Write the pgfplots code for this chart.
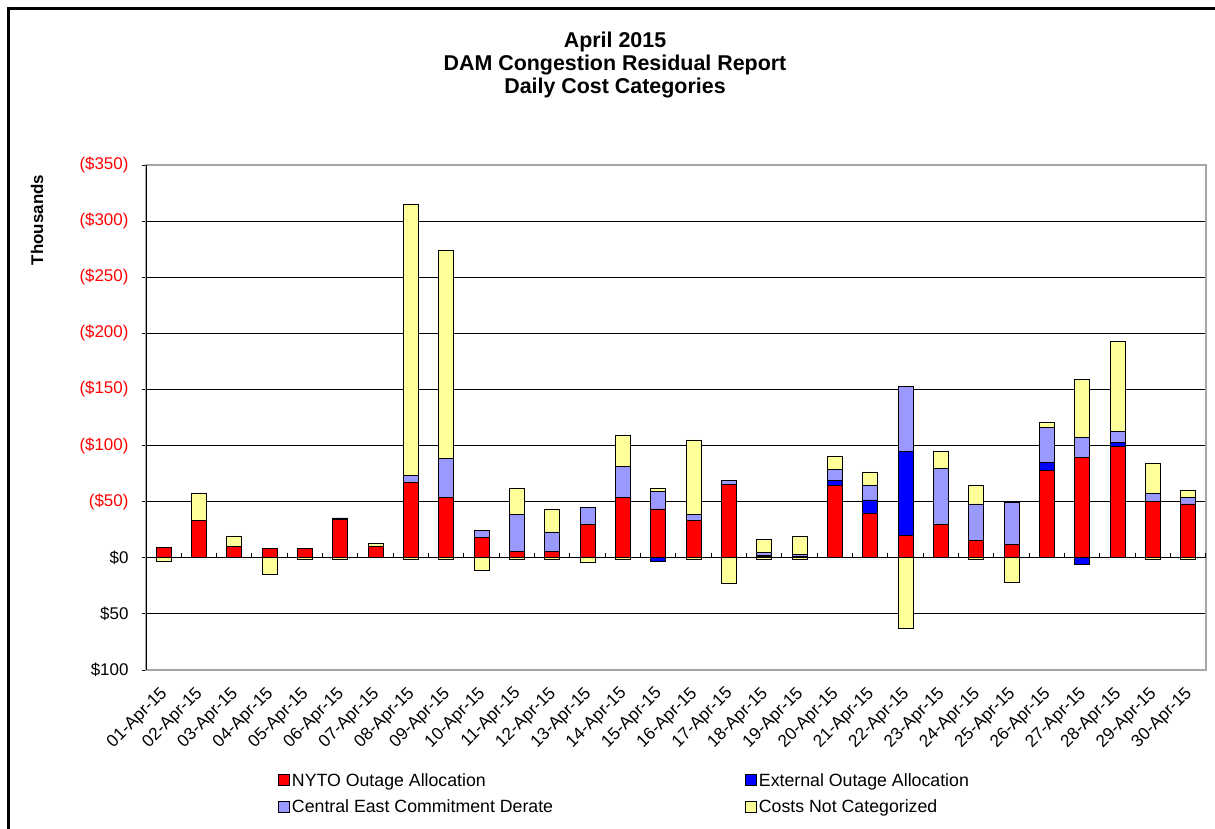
\documentclass[border=0pt]{standalone}
\usepackage{pgfplots}
\pgfplotsset{compat=1.18}
\usepackage{pgfplotstable}
\usepackage{fontspec}
\setmainfont{Liberation Sans}

\definecolor{cred}{RGB}{255,0,0}
\definecolor{cblue}{RGB}{0,0,255}
\definecolor{cpurple}{RGB}{153,153,255}
\definecolor{cyellow}{RGB}{255,255,153}

\pgfplotstableread{
day red blue purple yellow nblue nyellow
1 9.5 0 0 0 0 -3.5
2 33.5 0 0 24 0 0
3 10.5 0 0 9 0 0
4 8.5 0 0 0 0 -14.5
5 8.5 0 0 0 0 -1
6 34.5 1 0 0 0 -1
7 10.5 0 0 2.5 0 0
8 67 0 6 242 0 -1
9 53.5 0 35 185.5 0 -1
10 18 0 6.5 0 0 -11
11 6 0 32.5 23 0 -1
12 6 0 17 20.5 0 -1
13 30 0 14.5 0 0 -4.5
14 54 0 27.5 28 0 -1
15 43.5 0 15.5 2.5 -3.3 0
16 33.5 0 5 66.5 0 -1
17 65 0 4 0 0 -22.5
18 1.5 0.5 3 11 0 -1
19 0.5 0.5 2 16 0 -1
20 64.5 4.5 9.5 12 0 0
21 39.5 12 13 12 0 0
22 20 74.5 58.5 0 0 -62.5
23 29.5 0 50.5 14.5 0 0
24 15.5 0 32.5 16.5 0 -1
25 11.5 0 37.5 0 0 -21.5
26 77.5 7.5 31 5 0 0
27 89.5 0 18 51.5 -6 0
28 99 3.5 10 80 0 0
29 50 0 7.5 26.5 0 -1
30 48 0 6 6 0 -1
}\data

\pgfplotsset{
  common/.style={
    at={(146bp,-670bp)}, anchor=south west, scale only axis,
    width=1060bp, height=505bp,
    xmin=0.5, xmax=30.5, ymin=-100, ymax=350,
    ybar stacked, bar width=15bp,
  },
  barsty/.style={fill=#1, draw=black, line width=0.8bp},
}

\begin{document}
\begin{tikzpicture}
\path[use as bounding box] (0,0) rectangle (1215bp,-829bp);
\draw[line width=3bp] (8.5bp,-829bp) -- (8.5bp,-8.5bp) -- (1215bp,-8.5bp);
\node[font=\fontsize{21.5}{23.5}\selectfont\bfseries, align=center] at (615bp,-65bp)
  {April 2015\\DAM Congestion Residual Report\\Daily Cost Categories};
\node[font=\fontsize{17}{20}\selectfont\bfseries, rotate=90] at (37bp,-220bp) {Thousands};

\begin{axis}[common,
  ytick={-100,-50,...,350},
  yticklabels={\$100,\$50,\$0,\textcolor{red}{(\$50)},\textcolor{red}{(\$100)},\textcolor{red}{(\$150)},\textcolor{red}{(\$200)},\textcolor{red}{(\$250)},\textcolor{red}{(\$300)},\textcolor{red}{(\$350)}},
  ytick pos=left, tick align=outside, major tick length=4bp,
  ytick style={black, line width=1bp},
  y tick label style={font=\fontsize{17}{19}\selectfont, xshift=-10bp},
  xtick={1,...,30},
  xticklabels={01-Apr-15,02-Apr-15,03-Apr-15,04-Apr-15,05-Apr-15,06-Apr-15,07-Apr-15,08-Apr-15,09-Apr-15,10-Apr-15,11-Apr-15,12-Apr-15,13-Apr-15,14-Apr-15,15-Apr-15,16-Apr-15,17-Apr-15,18-Apr-15,19-Apr-15,20-Apr-15,21-Apr-15,22-Apr-15,23-Apr-15,24-Apr-15,25-Apr-15,26-Apr-15,27-Apr-15,28-Apr-15,29-Apr-15,30-Apr-15},
  xtick style={draw=none},
  x tick label style={xshift=-4.5bp, yshift=-10bp, rotate=45, anchor=north east, inner sep=1bp,
    font=\fontsize{17.3}{19}\selectfont},
  ymajorgrids, grid style={black, line width=0.9bp},
  axis line style={draw=gray!70, line width=1.2bp},
  legend columns=2,
  legend cell align=left,
  legend style={draw=none, fill=none, at={(0.1217,-0.196)}, anchor=north west,
    font=\fontsize{17.8}{20}\selectfont, row sep=8.5bp,
    /tikz/every even column/.append style={column sep=190bp}},
  legend image code/.code={\draw[#1, draw=black, line width=0.8bp] (0bp,-5.5bp) rectangle (11bp,5.5bp);},
]
\addplot[barsty=cred] table[x=day,y=red]{\data};
\addlegendentry{NYTO Outage Allocation}
\addplot[barsty=cblue] table[x=day,y=blue]{\data};
\addlegendentry{External Outage Allocation}
\addplot[barsty=cpurple] table[x=day,y=purple]{\data};
\addlegendentry{Central East Commitment Derate}
\addplot[barsty=cyellow] table[x=day,y=yellow]{\data};
\addlegendentry{Costs Not Categorized}
\end{axis}

\begin{axis}[common, hide axis]
\addplot[barsty=cblue] table[x=day,y=nblue]{\data};
\addplot[barsty=cyellow] table[x=day,y=nyellow]{\data};
\draw[black, line width=1.2bp] (axis cs:0.5,-100) -- (axis cs:0.5,350);
\draw[black, line width=1bp] (axis cs:0.5,0) -- (axis cs:30.5,0);
\pgfplotsinvokeforeach{1.5,2.5,...,30.5}{\draw[black, line width=1bp] (axis cs:#1,0) -- (axis cs:#1,4.5);}
\end{axis}
\end{tikzpicture}
\end{document}
